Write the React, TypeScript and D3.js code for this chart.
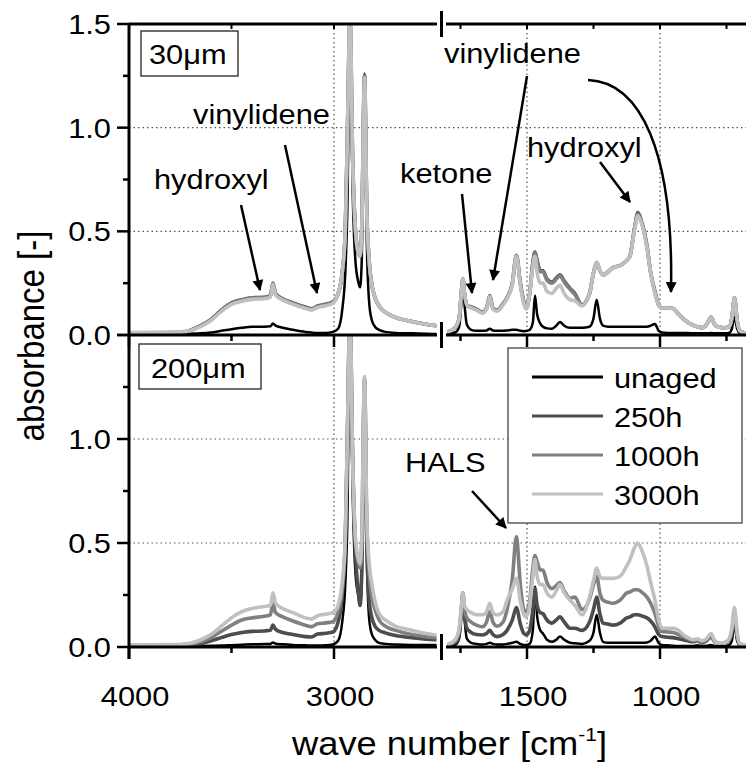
import React from "react";
import * as d3 from "d3";

// ---------- data ----------
const seriesNames = ["unaged", "250h", "1000h", "3000h"];
const seriesColors = ["#000000", "#4d4d4d", "#808080", "#c0c0c0"];
const seriesWidths = [2.5, 3.6, 3.6, 3.6];

const wnLeft = [4000, 3750, 3650, 3600, 3550, 3500, 3450, 3400, 3340, 3310, 3298, 3285, 3250, 3200, 3140, 3110, 3080, 3040, 3005, 2980, 2960, 2945, 2935, 2922, 2909, 2895, 2880, 2873, 2865, 2851, 2840, 2828, 2815, 2800, 2780, 2750, 2700, 2620, 2550, 2500];

const wnRight = [1800, 1770, 1755, 1747, 1741, 1735, 1726, 1710, 1690, 1668, 1652, 1640, 1628, 1613, 1590, 1575, 1555, 1540, 1525, 1512, 1503, 1490, 1478, 1470, 1462, 1450, 1440, 1425, 1406, 1390, 1376, 1360, 1338, 1320, 1293, 1265, 1250, 1238, 1226, 1214, 1195, 1177, 1150, 1125, 1113, 1095, 1083, 1070, 1049, 1035, 1019, 1005, 993, 970, 951, 930, 914, 895, 876, 860, 842, 825, 808, 795, 782, 760, 740, 730, 720, 710, 700, 680];

// 30 µm panel
const t30UnagedL = [0.003, 0.005, 0.008, 0.012, 0.02, 0.028, 0.035, 0.04, 0.04, 0.042, 0.055, 0.045, 0.035, 0.025, 0.015, 0.012, 0.01, 0.01, 0.015, 0.03, 0.12, 0.3, 0.6, 1.49, 0.7, 0.35, 0.25, 0.23, 0.35, 1.26, 0.45, 0.15, 0.07, 0.04, 0.025, 0.015, 0.01, 0.008, 0.006, 0.005];
const t30h250L = [0.01, 0.012, 0.045, 0.075, 0.12, 0.155, 0.17, 0.18, 0.182, 0.19, 0.25, 0.2, 0.175, 0.155, 0.135, 0.127, 0.14, 0.148, 0.16, 0.2, 0.3, 0.5, 0.95, 1.52, 0.85, 0.5, 0.39, 0.38, 0.5, 1.25, 0.6, 0.35, 0.24, 0.18, 0.14, 0.11, 0.085, 0.065, 0.052, 0.045];
const t30h1000L = [0.01, 0.012, 0.044, 0.074, 0.118, 0.153, 0.168, 0.178, 0.18, 0.188, 0.248, 0.198, 0.173, 0.153, 0.133, 0.125, 0.138, 0.146, 0.158, 0.2, 0.3, 0.5, 0.95, 1.52, 0.85, 0.5, 0.39, 0.38, 0.5, 1.25, 0.6, 0.35, 0.24, 0.18, 0.14, 0.11, 0.085, 0.065, 0.052, 0.045];
const t30h3000L = [0.012, 0.015, 0.04, 0.07, 0.113, 0.148, 0.163, 0.172, 0.175, 0.183, 0.243, 0.193, 0.168, 0.148, 0.128, 0.12, 0.133, 0.141, 0.153, 0.2, 0.3, 0.5, 0.95, 1.55, 0.85, 0.5, 0.39, 0.38, 0.5, 1.24, 0.6, 0.35, 0.24, 0.18, 0.14, 0.11, 0.085, 0.065, 0.052, 0.045];

const t30UnagedR = [0.008, 0.012, 0.04, 0.15, 0.265, 0.15, 0.05, 0.025, 0.02, 0.02, 0.022, 0.03, 0.022, 0.02, 0.02, 0.022, 0.025, 0.025, 0.02, 0.018, 0.02, 0.025, 0.06, 0.19, 0.1, 0.055, 0.04, 0.032, 0.03, 0.045, 0.063, 0.045, 0.035, 0.035, 0.035, 0.04, 0.08, 0.17, 0.08, 0.045, 0.04, 0.04, 0.04, 0.04, 0.04, 0.04, 0.04, 0.04, 0.04, 0.045, 0.053, 0.02, 0.012, 0.01, 0.01, 0.01, 0.01, 0.01, 0.008, 0.008, 0.008, 0.008, 0.01, 0.008, 0.008, 0.008, 0.01, 0.03, 0.087, 0.03, 0.01, 0.005];
const t30h250R = [0.015, 0.035, 0.08, 0.2, 0.27, 0.2, 0.145, 0.135, 0.125, 0.11, 0.13, 0.19, 0.13, 0.12, 0.15, 0.18, 0.25, 0.385, 0.25, 0.16, 0.13, 0.2, 0.35, 0.4, 0.36, 0.31, 0.31, 0.27, 0.255, 0.275, 0.29, 0.26, 0.225, 0.2, 0.145, 0.2, 0.3, 0.35, 0.31, 0.29, 0.305, 0.325, 0.335, 0.36, 0.38, 0.52, 0.59, 0.55, 0.43, 0.3, 0.21, 0.145, 0.13, 0.13, 0.128, 0.1, 0.08, 0.06, 0.048, 0.04, 0.035, 0.05, 0.087, 0.05, 0.04, 0.035, 0.04, 0.08, 0.18, 0.07, 0.02, 0.01];
const t30h1000R = [0.015, 0.035, 0.08, 0.2, 0.27, 0.2, 0.143, 0.133, 0.123, 0.108, 0.128, 0.188, 0.128, 0.118, 0.148, 0.178, 0.25, 0.383, 0.248, 0.158, 0.128, 0.2, 0.345, 0.395, 0.355, 0.305, 0.305, 0.265, 0.25, 0.27, 0.285, 0.255, 0.22, 0.195, 0.145, 0.2, 0.3, 0.35, 0.31, 0.29, 0.305, 0.325, 0.335, 0.36, 0.38, 0.52, 0.585, 0.545, 0.425, 0.3, 0.205, 0.145, 0.13, 0.13, 0.128, 0.1, 0.08, 0.06, 0.048, 0.04, 0.035, 0.05, 0.087, 0.05, 0.04, 0.035, 0.04, 0.08, 0.18, 0.07, 0.02, 0.01];
const t30h3000R = [0.015, 0.035, 0.08, 0.2, 0.27, 0.2, 0.145, 0.13, 0.12, 0.105, 0.125, 0.185, 0.125, 0.115, 0.145, 0.175, 0.245, 0.38, 0.24, 0.15, 0.125, 0.2, 0.33, 0.38, 0.3, 0.25, 0.25, 0.21, 0.2, 0.225, 0.24, 0.2, 0.17, 0.165, 0.14, 0.2, 0.3, 0.35, 0.31, 0.29, 0.305, 0.325, 0.335, 0.36, 0.38, 0.51, 0.575, 0.54, 0.42, 0.3, 0.2, 0.145, 0.13, 0.13, 0.128, 0.1, 0.08, 0.06, 0.048, 0.04, 0.035, 0.05, 0.087, 0.05, 0.04, 0.035, 0.04, 0.08, 0.18, 0.07, 0.02, 0.01];

// 200 µm panel
const t200UnagedL = [0.003, 0.004, 0.005, 0.006, 0.007, 0.009, 0.011, 0.013, 0.014, 0.015, 0.022, 0.016, 0.013, 0.01, 0.008, 0.007, 0.007, 0.008, 0.012, 0.03, 0.12, 0.3, 0.6, 1.6, 0.75, 0.35, 0.24, 0.2, 0.3, 1.27, 0.45, 0.13, 0.06, 0.035, 0.02, 0.015, 0.012, 0.01, 0.01, 0.01];
const t200h250L = [0.005, 0.007, 0.015, 0.03, 0.045, 0.06, 0.07, 0.075, 0.077, 0.08, 0.105, 0.085, 0.07, 0.06, 0.05, 0.048, 0.062, 0.066, 0.072, 0.12, 0.25, 0.5, 1.0, 1.6, 0.9, 0.45, 0.25, 0.2, 0.35, 1.28, 0.5, 0.22, 0.14, 0.1, 0.08, 0.068, 0.055, 0.045, 0.038, 0.034];
const t200h1000L = [0.008, 0.01, 0.025, 0.045, 0.075, 0.105, 0.13, 0.14, 0.148, 0.155, 0.21, 0.165, 0.145, 0.125, 0.105, 0.098, 0.112, 0.116, 0.122, 0.17, 0.28, 0.5, 1.0, 1.6, 0.9, 0.5, 0.4, 0.38, 0.5, 1.29, 0.6, 0.35, 0.24, 0.18, 0.13, 0.1, 0.08, 0.06, 0.05, 0.045];
const t200h3000L = [0.01, 0.012, 0.035, 0.06, 0.1, 0.14, 0.17, 0.185, 0.195, 0.2, 0.26, 0.21, 0.185, 0.165, 0.14, 0.135, 0.15, 0.158, 0.165, 0.2, 0.31, 0.52, 1.0, 1.6, 0.9, 0.52, 0.42, 0.4, 0.52, 1.3, 0.62, 0.4, 0.3, 0.22, 0.16, 0.13, 0.1, 0.08, 0.065, 0.058];

const t200UnagedR = [0.005, 0.01, 0.04, 0.15, 0.26, 0.14, 0.04, 0.02, 0.015, 0.012, 0.015, 0.02, 0.015, 0.012, 0.012, 0.015, 0.02, 0.025, 0.015, 0.01, 0.01, 0.015, 0.08, 0.29, 0.15, 0.08, 0.065, 0.035, 0.025, 0.035, 0.05, 0.035, 0.02, 0.018, 0.015, 0.03, 0.07, 0.155, 0.07, 0.025, 0.02, 0.02, 0.02, 0.02, 0.02, 0.02, 0.02, 0.02, 0.022, 0.03, 0.05, 0.02, 0.01, 0.008, 0.006, 0.005, 0.005, 0.005, 0.005, 0.008, 0.005, 0.006, 0.01, 0.005, 0.005, 0.005, 0.01, 0.03, 0.11, 0.03, 0.008, 0.005];
const t200h250R = [0.008, 0.02, 0.06, 0.17, 0.26, 0.16, 0.09, 0.07, 0.06, 0.058, 0.065, 0.08, 0.06, 0.05, 0.06, 0.08, 0.13, 0.19, 0.11, 0.065, 0.058, 0.08, 0.18, 0.28, 0.2, 0.165, 0.16, 0.13, 0.115, 0.13, 0.145, 0.12, 0.09, 0.09, 0.08, 0.12, 0.18, 0.24, 0.16, 0.115, 0.11, 0.105, 0.115, 0.14, 0.145, 0.155, 0.155, 0.15, 0.14, 0.125, 0.097, 0.06, 0.05, 0.047, 0.045, 0.04, 0.035, 0.03, 0.025, 0.03, 0.02, 0.03, 0.05, 0.025, 0.02, 0.02, 0.03, 0.07, 0.15, 0.05, 0.01, 0.008];
const t200h1000R = [0.01, 0.03, 0.08, 0.18, 0.26, 0.18, 0.14, 0.12, 0.105, 0.097, 0.12, 0.17, 0.12, 0.1, 0.12, 0.18, 0.33, 0.53, 0.3, 0.18, 0.17, 0.22, 0.38, 0.44, 0.41, 0.37, 0.37, 0.31, 0.28, 0.295, 0.31, 0.27, 0.235, 0.24, 0.18, 0.23, 0.3, 0.34, 0.26, 0.225, 0.215, 0.21, 0.225, 0.26, 0.265, 0.275, 0.275, 0.265, 0.24, 0.21, 0.16, 0.1, 0.075, 0.072, 0.07, 0.06, 0.05, 0.04, 0.03, 0.035, 0.025, 0.035, 0.055, 0.03, 0.02, 0.02, 0.035, 0.08, 0.17, 0.06, 0.015, 0.01];
const t200h3000R = [0.012, 0.035, 0.09, 0.19, 0.26, 0.2, 0.18, 0.165, 0.155, 0.155, 0.17, 0.21, 0.165, 0.155, 0.17, 0.225, 0.28, 0.33, 0.22, 0.155, 0.145, 0.2, 0.34, 0.42, 0.34, 0.3, 0.3, 0.26, 0.24, 0.27, 0.3, 0.26, 0.225, 0.2, 0.155, 0.24, 0.32, 0.38, 0.34, 0.33, 0.33, 0.33, 0.34, 0.39, 0.42, 0.48, 0.5, 0.47, 0.39, 0.31, 0.225, 0.13, 0.09, 0.09, 0.09, 0.08, 0.06, 0.045, 0.035, 0.04, 0.03, 0.04, 0.065, 0.03, 0.02, 0.02, 0.04, 0.09, 0.19, 0.07, 0.015, 0.01];

const panel30Left = [t30UnagedL, t30h250L, t30h1000L, t30h3000L];
const panel30Right = [t30UnagedR, t30h250R, t30h1000R, t30h3000R];
const panel200Left = [t200UnagedL, t200h250L, t200h1000L, t200h3000L];
const panel200Right = [t200UnagedR, t200h250R, t200h1000R, t200h3000R];

const yMajor = [0, 0.5, 1.0, 1.5];
const yMinor = [0.25, 0.75, 1.25];
const xLeftMajor = [4000, 3000];
const xLeftMinor = [3500];
const xRightMajor = [1500, 1000];
const xRightMinor = [1750, 1250, 750];

// ---------- layout ----------
const W = 746, H = 765;
const xLeft = d3.scaleLinear().domain([4000, 3000]).range([129, 334]);
const xRight = d3.scaleLinear().domain([1500, 1000]).range([527, 660]);
const yTop = d3.scaleLinear().domain([0, 1.5]).range([335, 24]);
const yBot = d3.scaleLinear().domain([0, 1.5]).range([647, 335]);
const X0 = 129, XEND = 746, BREAK_L = 437, BREAK_R = 446, BREAK_X = 441.5;
const FONT = "'Liberation Sans', Arial, Helvetica, sans-serif";
const SX = 1.1;

function T({ x, y, size = 28, anchor = "start", rotate = 0, children }: any) {
  return (
    <text
      transform={`translate(${x},${y}) scale(${SX},1)${rotate ? ` rotate(${rotate})` : ""}`}
      fontSize={size}
      fontFamily={FONT}
      textAnchor={anchor}
      fill="#000"
    >
      {children}
    </text>
  );
}

function pathFor(wn: number[], vals: number[], xs: any, ys: any) {
  const pts: [number, number][] = wn.map((w, i) => [xs(w), ys(vals[i])]);
  return d3.line().curve(d3.curveMonotoneX)(pts) || "";
}

function Panel({ left, right, ys, clip }: any) {
  return (
    <g clipPath={`url(#${clip})`}>
      {seriesNames.map((_, i) => (
        <g key={i}>
          <path d={pathFor(wnLeft, left[i], xLeft, ys)} fill="none" stroke={seriesColors[i]} strokeWidth={seriesWidths[i]} strokeLinejoin="round" />
          <path d={pathFor(wnRight, right[i], xRight, ys)} fill="none" stroke={seriesColors[i]} strokeWidth={seriesWidths[i]} strokeLinejoin="round" />
        </g>
      ))}
    </g>
  );
}

function HAxis({ y, ticks }: any) {
  return (
    <g stroke="#000">
      <line x1={X0} x2={BREAK_L} y1={y} y2={y} strokeWidth={3} />
      <line x1={BREAK_R} x2={XEND} y1={y} y2={y} strokeWidth={3} />
      <line x1={BREAK_X} x2={BREAK_X} y1={y - 13} y2={y + 13} strokeWidth={3} />
      {ticks === "down" && (
        <>
          {xLeftMajor.map((w) => <line key={"a" + w} x1={xLeft(w)} x2={xLeft(w)} y1={y} y2={y + 12} strokeWidth={2.5} />)}
          {xLeftMinor.map((w) => <line key={"b" + w} x1={xLeft(w)} x2={xLeft(w)} y1={y} y2={y + 6} strokeWidth={2.5} />)}
          {xRightMajor.map((w) => <line key={"c" + w} x1={xRight(w)} x2={xRight(w)} y1={y} y2={y + 12} strokeWidth={2.5} />)}
          {xRightMinor.map((w) => <line key={"d" + w} x1={xRight(w)} x2={xRight(w)} y1={y} y2={y + 6} strokeWidth={2.5} />)}
        </>
      )}
      {ticks === "in" && (
        <>
          {[...xLeftMajor.slice(1), ...xLeftMinor].map((w) => <line key={"e" + w} x1={xLeft(w)} x2={xLeft(w)} y1={y} y2={y + 5} strokeWidth={2} />)}
          {[...xRightMajor, ...xRightMinor].map((w) => <line key={"f" + w} x1={xRight(w)} x2={xRight(w)} y1={y} y2={y + 5} strokeWidth={2} />)}
        </>
      )}
    </g>
  );
}

export default function App() {
  const fmt = d3.format(".1f");
  const gridStyle = { stroke: "#555", strokeWidth: 1.2, strokeDasharray: "1.5 3" };
  const legendRows = [377, 416, 455, 494];
  return (
    <svg width={W} height={H} style={{ position: "absolute", left: 0, top: 0, background: "#fff" }}>
      <defs>
        <clipPath id="clipTop"><rect x={X0} y={24} width={XEND - X0} height={311} /></clipPath>
        <clipPath id="clipBot"><rect x={X0} y={335} width={XEND - X0} height={312} /></clipPath>
        <marker id="ah" viewBox="0 0 10 10" refX={9} refY={5} markerWidth={15} markerHeight={11} markerUnits="userSpaceOnUse" orient="auto">
          <path d="M0,0 L10,5 L0,10 z" fill="#000" />
        </marker>
      </defs>
      <rect x={0} y={0} width={W} height={H} fill="#fff" />

      {/* grid */}
      <g fill="none">
        {[xLeft(3000), xRight(1500), xRight(1000)].map((x, i) => (
          <line key={"gv" + i} x1={x} x2={x} y1={24} y2={647} style={gridStyle} />
        ))}
        {[yTop(0.5), yTop(1), yBot(0.5), yBot(1)].map((y, i) => (
          <line key={"gh" + i} x1={X0} x2={XEND} y1={y} y2={y} style={gridStyle} />
        ))}
      </g>

      {/* spectra */}
      <Panel left={panel30Left} right={panel30Right} ys={yTop} clip="clipTop" />
      <Panel left={panel200Left} right={panel200Right} ys={yBot} clip="clipBot" />

      {/* axes */}
      <HAxis y={24} ticks="in" />
      <HAxis y={335} ticks="down" />
      <HAxis y={647} ticks="down" />
      <line x1={X0} x2={X0} y1={24} y2={659} stroke="#000" strokeWidth={3} />
      <g stroke="#000" strokeWidth={2.5}>
        {yMajor.map((v) => <line key={"ty" + v} x1={X0 - 12} x2={X0} y1={yTop(v)} y2={yTop(v)} />)}
        {yMinor.map((v) => <line key={"tm" + v} x1={X0 - 6} x2={X0} y1={yTop(v)} y2={yTop(v)} />)}
        {yMajor.map((v) => <line key={"by" + v} x1={X0 - 12} x2={X0} y1={yBot(v)} y2={yBot(v)} />)}
        {yMinor.map((v) => <line key={"bm" + v} x1={X0 - 6} x2={X0} y1={yBot(v)} y2={yBot(v)} />)}
      </g>
      {yMajor.map((v) => <T key={"lt" + v} x={111} y={yTop(v) + 10} anchor="end">{fmt(v)}</T>)}
      {yMajor.slice(0, 3).map((v) => <T key={"lb" + v} x={111} y={yBot(v) + 10} anchor="end">{fmt(v)}</T>)}
      {xLeftMajor.map((w) => <T key={"xl" + w} x={xLeft(w) + 6} y={706} anchor="middle">{String(w)}</T>)}
      {xRightMajor.map((w) => <T key={"xr" + w} x={xRight(w) + 6} y={706} anchor="middle">{String(w)}</T>)}

      {/* axis titles */}
      <T x={44} y={336} size={33} anchor="middle" rotate={-90}>absorbance [-]</T>
      <T x={292} y={755} size={33}>
        wave number [cm<tspan fontSize={19} dy={-14}>-1</tspan><tspan dy={14}>]</tspan>
      </T>

      {/* panel labels */}
      <rect x={141} y={31} width={97} height={45} fill="#fff" stroke="#222" strokeWidth={1.3} />
      <T x={149} y={64}>30μm</T>
      <rect x={139} y={344} width={122} height={45} fill="#fff" stroke="#222" strokeWidth={1.3} />
      <T x={151} y={378}>200μm</T>

      {/* annotations */}
      <T x={154} y={189}>hydroxyl</T>
      <T x={193} y={124}>vinylidene</T>
      <T x={400} y={183}>ketone</T>
      <T x={444} y={63}>vinylidene</T>
      <T x={527} y={157}>hydroxyl</T>
      <T x={405} y={472}>HALS</T>
      <g stroke="#000" strokeWidth={2.5} fill="none">
        <line x1={241} y1={205} x2={260} y2={290} markerEnd="url(#ah)" />
        <line x1={285} y1={145} x2={317} y2={293} markerEnd="url(#ah)" />
        <line x1={462} y1={194} x2={472} y2={293} markerEnd="url(#ah)" />
        <line x1={527} y1={76} x2={493} y2={280} markerEnd="url(#ah)" />
        <path d="M588,80 C640,82 674,150 671,292" markerEnd="url(#ah)" />
        <line x1={600} y1={162} x2={630} y2={202} markerEnd="url(#ah)" />
        <line x1={472} y1={491} x2={506} y2={528} markerEnd="url(#ah)" />
      </g>

      {/* legend */}
      <rect x={508} y={348} width={234} height={175} fill="#fff" stroke="#444" strokeWidth={1.3} />
      {seriesNames.map((name, i) => (
        <g key={name}>
          <line x1={532} x2={603} y1={legendRows[i]} y2={legendRows[i]} stroke={seriesColors[i]} strokeWidth={3} />
          <T x={614} y={legendRows[i] + 10.5}>{name}</T>
        </g>
      ))}
    </svg>
  );
}
